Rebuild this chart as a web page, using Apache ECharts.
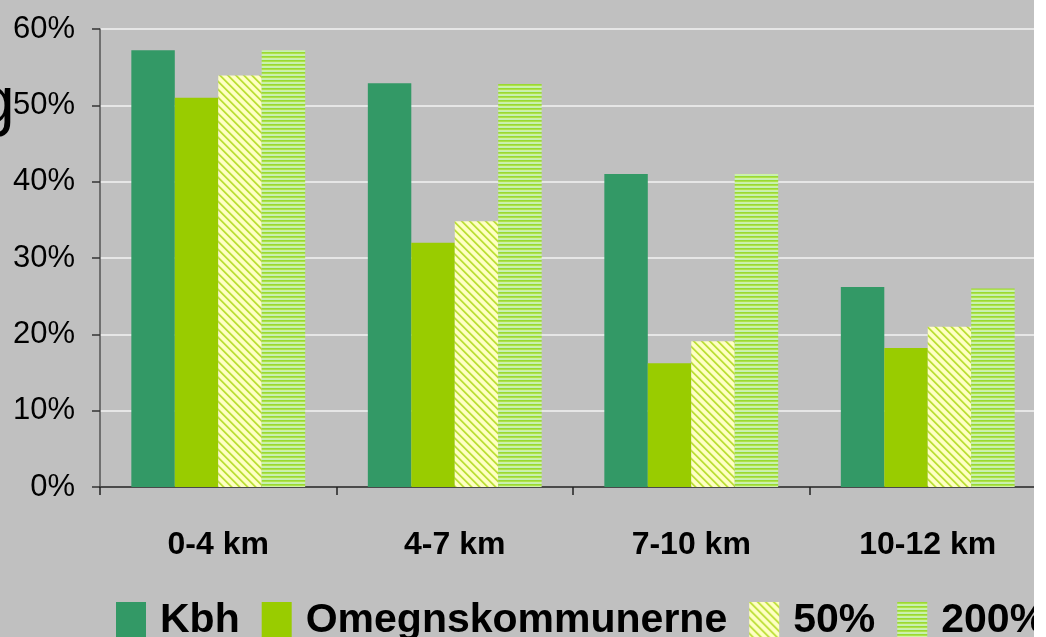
<!DOCTYPE html>
<html>
<head>
<meta charset="utf-8">
<script src="https://cdn.jsdelivr.net/npm/echarts@6/dist/echarts.min.js"></script>
<style>
  html, body { margin: 0; padding: 0; background: #fff; }
  #main { width: 1046px; height: 637px; }
</style>
</head>
<body>
<div id="main"></div>
<script>
// afstandsintervaller og andele (%)
const categories = ['0-4 km', '4-7 km', '7-10 km', '10-12 km']
const seriesNames = ['Kbh', 'Omegnskommunerne', '50%', '200%']
const kbh = [57.2, 52.9, 41.0, 26.2]
const omegn = [51.0, 32.0, 16.2, 18.2]
const pct50 = [53.9, 34.8, 19.1, 21.0]
const pct200 = [57.2, 52.8, 41.0, 26.0]

// stribede fyld til de to scenarier
function diagPattern() {
  const c = document.createElement('canvas')
  c.width = 8; c.height = 8
  const ctx = c.getContext('2d')
  for (let y = 0; y < 8; y++) {
    for (let x = 0; x < 8; x++) {
      const d = ((x - y) % 8 + 8) % 8
      ctx.fillStyle = d < 2 ? '#BEDF3A' : d < 3 ? '#E2F48A' : d === 7 ? '#EEFAA8' : '#FFFFC4'
      ctx.fillRect(x, y, 1, 1)
    }
  }
  return c
}
function stripePattern() {
  const c = document.createElement('canvas')
  c.width = 4; c.height = 4
  const ctx = c.getContext('2d')
  const rows = ['#9AD932', '#ACE24C', '#CFF3A2', '#C4EFB8']
  rows.forEach((col, i) => { ctx.fillStyle = col; ctx.fillRect(0, i, 4, 1) })
  return c
}

const fills = [
  '#339966',
  '#99CC00',
  { image: diagPattern(), repeat: 'repeat' },
  { image: stripePattern(), repeat: 'repeat' },
]
const values = [kbh, omegn, pct50, pct200]

const myChart = echarts.init(document.getElementById('main'))
const option = {
  backgroundColor: '#C0C0C0',
  animation: false,
  textStyle: { fontFamily: 'Liberation Sans, Arial, sans-serif' },
  grid: { left: 100, top: 29, right: -6, bottom: 150, containLabel: false },
  legend: {
    left: 111,
    top: 595,
    width: 1400,
    itemWidth: 30,
    itemHeight: 37,
    itemGap: 22,
    icon: 'rect',
    data: seriesNames,
    textStyle: {
      color: '#000',
      fontSize: 41,
      fontWeight: 'bold',
      fontFamily: 'Liberation Sans, Arial, sans-serif',
      padding: [0, 0, 0, 9],
    },
  },
  xAxis: {
    type: 'category',
    data: categories,
    axisLine: { lineStyle: { color: '#4A4A4A', width: 2 } },
    axisTick: { show: true, length: 8, inside: false, lineStyle: { color: '#222', width: 1.5 } },
    axisLabel: {
      color: '#000',
      fontSize: 32,
      fontWeight: 'bold',
      margin: 42,
      fontFamily: 'Liberation Sans, Arial, sans-serif',
    },
  },
  yAxis: {
    type: 'value',
    min: 0,
    max: 60,
    interval: 10,
    axisLine: { show: true, lineStyle: { color: '#555', width: 1.5 } },
    axisTick: { show: true, length: 8, lineStyle: { color: '#333', width: 1.5 } },
    splitLine: { lineStyle: { color: '#E6E6E6', width: 2 } },
    axisLabel: {
      color: '#000',
      fontSize: 31,
      margin: 25,
      fontFamily: 'Liberation Sans, Arial, sans-serif',
      formatter: '{value}%',
    },
  },
  series: seriesNames.map((name, i) => ({
    name: name,
    type: 'bar',
    barGap: '0%',
    barCategoryGap: '26.5%',
    itemStyle: { color: fills[i] },
    data: values[i],
  })),
  graphic: [
    {
      type: 'text',
      x: -22,
      y: 72,
      z: 50,
      style: {
        text: 'g',
        fill: '#000',
        fontSize: 66,
        fontFamily: 'Liberation Sans, Arial, sans-serif',
      },
    },
    {
      type: 'rect',
      shape: { x: 1034, y: 0, width: 20, height: 637 },
      style: { fill: '#fff' },
      z: 100,
    },
  ],
}
option && myChart.setOption(option)
</script>
</body>
</html>
